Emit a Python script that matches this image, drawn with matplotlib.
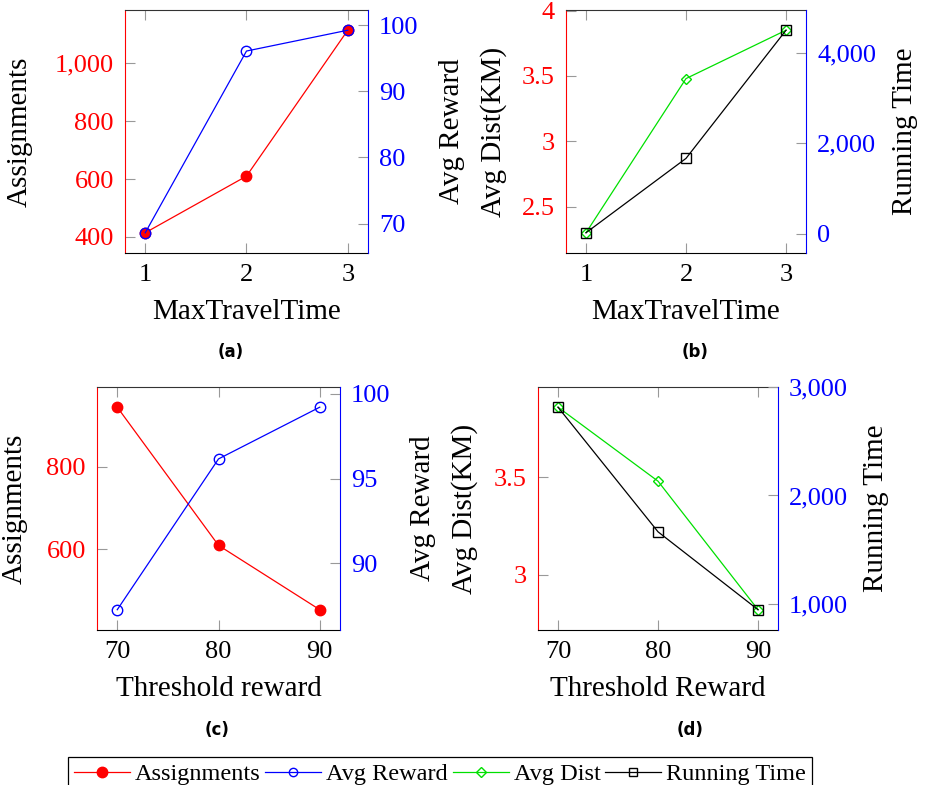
import matplotlib
matplotlib.use("Agg")
import matplotlib.pyplot as plt
from matplotlib.ticker import FuncFormatter
from matplotlib.lines import Line2D

plt.rcParams["font.family"] = ["Liberation Serif", "DejaVu Serif"]

# data
mtt = [1, 2, 3]
assign_mtt = [414, 610, 1115]
reward_mtt = [68.6, 96.1, 99.25]
dist_mtt = [2.30, 3.48, 3.85]
time_mtt = [20, 1668, 4508]

thr = [70, 80, 90]
assign_thr = [945, 610, 454]
reward_thr = [87.27, 96.16, 99.21]
dist_thr = [3.86, 3.48, 2.82]
time_thr = [2814, 1665, 947]

RED = "#ff0000"
BLUE = "#0000ff"
GREEN = "#00e000"
TICK_GREY = "#999999"

comma = FuncFormatter(lambda v, p: "{:,.0f}".format(v))
plain = FuncFormatter(lambda v, p: "{:g}".format(v))


def enlarge(vals, f=0.1):
    lo, hi = min(vals), max(vals)
    d = (hi - lo) * f
    return lo - d, hi + d


def style_pair(ax, ax2, x, xlabel, lticks, rticks, lfmt, rfmt):
    ax.set_xlim(enlarge(x))
    ax.set_xticks(x)
    ax.set_yticks(lticks)
    ax2.set_yticks(rticks)
    ax.yaxis.set_major_formatter(lfmt)
    ax2.yaxis.set_major_formatter(rfmt)
    ax.tick_params(axis="x", direction="in", top=True, bottom=True, length=7,
                   color=TICK_GREY, labelsize=19, pad=8)
    ax.tick_params(axis="y", direction="in", length=7, color=TICK_GREY,
                   labelsize=19, labelcolor=RED, pad=8)
    ax2.tick_params(axis="y", direction="in", length=7, color=TICK_GREY,
                    labelsize=19, labelcolor=BLUE, pad=8)
    ax.spines["left"].set_color(RED)
    ax.spines["right"].set_visible(False)
    ax2.spines["right"].set_color(BLUE)
    for s in ["left", "top", "bottom"]:
        ax2.spines[s].set_visible(False)
    ax.spines["top"].set_color("#333333")
    ax.spines["bottom"].set_color("black")
    ax.set_xlabel(xlabel, fontsize=21)
    ax.xaxis.set_label_coords(0.5, -0.19)


fig = plt.figure(figsize=(9.3, 7.85), dpi=100)

pos = {
    "a": [0.1344, 0.6777, 0.2613, 0.3096],
    "b": [0.6086, 0.6777, 0.2581, 0.3096],
    "c": [0.1043, 0.1975, 0.2613, 0.3096],
    "d": [0.5785, 0.1975, 0.2581, 0.3096],
}

# (a)
ax = fig.add_axes(pos["a"])
ax2 = ax.twinx()
ax.plot(mtt, assign_mtt, color=RED, lw=0.9, marker="o", ms=7.5)
ax2.plot(mtt, reward_mtt, color=BLUE, lw=0.9, marker="o", ms=7.5, mfc="none", mew=1)
ax.set_ylim(enlarge(assign_mtt))
ax2.set_ylim(enlarge(reward_mtt))
style_pair(ax, ax2, mtt, "MaxTravelTime", [400, 600, 800, 1000], [70, 80, 90, 100], comma, plain)
ax.set_ylabel("Assignments", fontsize=21)
ax.yaxis.set_label_coords(-0.38, 0.5)

# (b)
ax = fig.add_axes(pos["b"])
ax2 = ax.twinx()
ax.plot(mtt, dist_mtt, color=GREEN, lw=0.9, marker="D", ms=5, mfc="none", mew=1)
ax2.plot(mtt, time_mtt, color="black", lw=0.9, marker="s", ms=7, mfc="none", mew=1)
ax.set_ylim(enlarge(dist_mtt))
ax2.set_ylim(enlarge(time_mtt))
style_pair(ax, ax2, mtt, "MaxTravelTime", [2.5, 3, 3.5, 4], [0, 2000, 4000], plain, comma)
ax.set_ylabel("Avg Reward\nAvg Dist(KM)", fontsize=21, linespacing=1.75)
ax.yaxis.set_label_coords(-0.246, 0.5)
ax2.set_ylabel("Running Time", fontsize=21)
ax2.yaxis.set_label_coords(1.358, 0.5)

# (c)
ax = fig.add_axes(pos["c"])
ax2 = ax.twinx()
ax.plot(thr, assign_thr, color=RED, lw=0.9, marker="o", ms=7.5)
ax2.plot(thr, reward_thr, color=BLUE, lw=0.9, marker="o", ms=7.5, mfc="none", mew=1)
ax.set_ylim(enlarge(assign_thr))
ax2.set_ylim(enlarge(reward_thr))
style_pair(ax, ax2, thr, "Threshold reward", [600, 800], [90, 95, 100], comma, plain)
ax.set_ylabel("Assignments", fontsize=21)
ax.yaxis.set_label_coords(-0.285, 0.5)

# (d)
ax = fig.add_axes(pos["d"])
ax2 = ax.twinx()
ax.plot(thr, dist_thr, color=GREEN, lw=0.9, marker="D", ms=5, mfc="none", mew=1)
ax2.plot(thr, time_thr, color="black", lw=0.9, marker="s", ms=7, mfc="none", mew=1)
ax.set_ylim(enlarge(dist_thr))
ax2.set_ylim(enlarge(time_thr))
style_pair(ax, ax2, thr, "Threshold Reward", [3, 3.5], [1000, 2000, 3000], plain, comma)
ax.set_ylabel("Avg Reward\nAvg Dist(KM)", fontsize=21, linespacing=1.75)
ax.yaxis.set_label_coords(-0.25, 0.5)
ax2.set_ylabel("Running Time", fontsize=21)
ax2.yaxis.set_label_coords(1.354, 0.5)

# sub captions
for lab, x, y in [("(a)", 231, 352), ("(b)", 695, 352), ("(c)", 217, 730), ("(d)", 690, 730)]:
    fig.text(x / 930, 1 - y / 785, lab, ha="center", va="center",
             fontsize=12, fontweight="bold", family="DejaVu Sans")

# shared legend
handles = [
    Line2D([], [], color=RED, lw=0.9, marker="o", ms=7.5),
    Line2D([], [], color=BLUE, lw=0.9, marker="o", ms=6, mfc="none", mew=1),
    Line2D([], [], color=GREEN, lw=0.9, marker="D", ms=5, mfc="none", mew=1),
    Line2D([], [], color="black", lw=0.9, marker="s", ms=6, mfc="none", mew=1),
]
labels = ["Assignments", "Avg Reward", "Avg Dist", "Running Time"]
leg = fig.legend(handles, labels, ncol=4, loc="upper center",
                 bbox_to_anchor=(440 / 930, 1 - 745 / 785), fontsize=17.5,
                 frameon=True, fancybox=False, edgecolor="black", framealpha=1,
                 handlelength=2.3, handletextpad=0.2, columnspacing=0.2,
                 borderpad=0.25, numpoints=1)
leg.get_frame().set_linewidth(0.9)

fig.savefig("out.png", dpi=100)
